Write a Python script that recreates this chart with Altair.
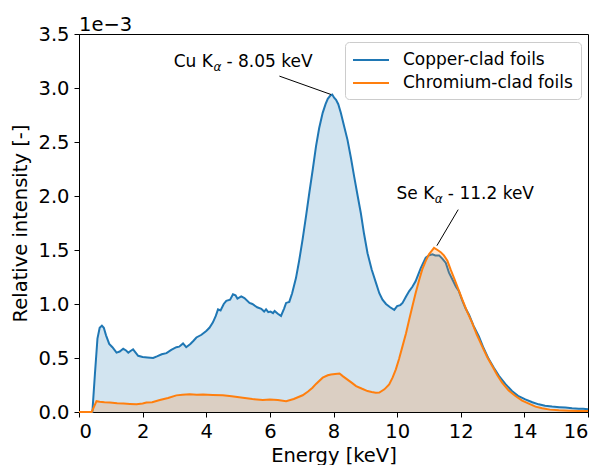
import altair as alt
import pandas as pd

# ---- data (intensity in units of 1e-3) ----
energy_cu = [0.0, 0.40, 0.42, 0.50, 0.58, 0.65, 0.72, 0.78, 0.85, 0.95, 1.05, 1.18, 1.28, 1.39, 1.48,
             1.55, 1.62, 1.70, 1.78, 1.86, 2.0, 2.15, 2.33, 2.45, 2.6, 2.75, 2.9, 3.06, 3.15, 3.27,
             3.37, 3.5, 3.6, 3.69, 3.85, 4.0, 4.1, 4.21, 4.3, 4.37, 4.45, 4.55, 4.63, 4.75, 4.84,
             4.92, 4.98, 5.1, 5.2, 5.36, 5.45, 5.6, 5.73, 5.82, 5.88, 5.95, 6.02, 6.1, 6.15, 6.25,
             6.35, 6.45, 6.51, 6.61, 6.7, 6.82, 6.92, 7.03, 7.14, 7.24, 7.35, 7.45, 7.55, 7.66, 7.75,
             7.82, 7.9, 7.96, 8.02, 8.08, 8.15, 8.23, 8.33, 8.44, 8.55, 8.65, 8.76, 8.86, 8.96, 9.07,
             9.2, 9.33, 9.44, 9.54, 9.65, 9.78, 9.91, 10.0, 10.1, 10.17, 10.28, 10.38, 10.48, 10.58,
             10.66, 10.74, 10.82, 10.90, 11.0, 11.11, 11.2, 11.32, 11.42, 11.53, 11.63, 11.75, 11.85,
             11.94, 12.05, 12.15, 12.26, 12.4, 12.57, 12.72, 12.88, 13.04, 13.20, 13.4, 13.61, 13.8,
             14.03, 14.25, 14.45, 14.65, 14.87, 15.1, 15.29, 15.5, 15.71, 15.85, 16.0]
intensity_cu = [0.0, 0.0, 0.0, 0.35, 0.68, 0.78, 0.80, 0.78, 0.71, 0.63, 0.60, 0.55, 0.56, 0.585, 0.57,
                0.55, 0.565, 0.58, 0.55, 0.52, 0.51, 0.505, 0.50, 0.515, 0.535, 0.545, 0.575, 0.60, 0.605, 0.635,
                0.60, 0.63, 0.66, 0.69, 0.715, 0.75, 0.78, 0.83, 0.89, 0.95, 0.94, 1.00, 1.03, 1.04, 1.09,
                1.08, 1.05, 1.07, 1.055, 1.01, 1.00, 0.97, 0.955, 0.93, 0.95, 0.925, 0.93, 0.915, 0.935, 0.91,
                0.89, 0.96, 1.01, 1.02, 1.10, 1.24, 1.40, 1.60, 1.82, 2.03, 2.25, 2.46, 2.63, 2.77, 2.85,
                2.90, 2.93, 2.94, 2.91, 2.89, 2.85, 2.77, 2.65, 2.52, 2.35, 2.18, 2.00, 1.84, 1.65, 1.47,
                1.32, 1.20, 1.10, 1.04, 1.00, 0.97, 0.945, 0.98, 0.99, 1.01, 1.07, 1.12, 1.16, 1.21,
                1.27, 1.33, 1.38, 1.43, 1.45, 1.46, 1.45, 1.45, 1.42, 1.38, 1.29, 1.22, 1.16,
                1.12, 1.03, 0.96, 0.90, 0.80, 0.70, 0.59, 0.49, 0.41, 0.335, 0.26, 0.195, 0.15,
                0.117, 0.09, 0.071, 0.058, 0.050, 0.045, 0.041, 0.035, 0.031, 0.030, 0.025]

energy_cr = [0.0, 0.40, 0.55, 0.65, 0.8, 0.97, 1.2, 1.4, 1.6, 1.81, 2.0, 2.12, 2.3, 2.54, 2.8, 3.06,
             3.25, 3.48, 3.7, 3.9, 4.2, 4.52, 4.8, 5.15, 5.45, 5.78, 6.0, 6.25, 6.51, 6.75, 7.03, 7.2,
             7.34, 7.45, 7.66, 7.82, 7.92, 8.05, 8.19, 8.3, 8.44, 8.58, 8.71, 8.9, 9.07, 9.2, 9.33,
             9.44, 9.6, 9.75, 9.86, 9.96, 10.06, 10.17, 10.28, 10.38, 10.48, 10.58, 10.69, 10.79,
             10.9, 11.0, 11.08, 11.16, 11.27, 11.37, 11.47, 11.58, 11.68, 11.79, 11.92, 12.05, 12.2,
             12.36, 12.5, 12.67, 12.83, 12.99, 13.15, 13.30, 13.5, 13.72, 13.93, 14.14, 14.35, 14.56,
             14.8, 15.08, 15.4, 15.7, 16.0]
intensity_cr = [0.0, 0.0, 0.10, 0.095, 0.09, 0.087, 0.08, 0.078, 0.075, 0.071, 0.078, 0.087, 0.09, 0.111, 0.13, 0.154,
                0.16, 0.164, 0.16, 0.163, 0.158, 0.154, 0.145, 0.133, 0.12, 0.111, 0.115, 0.111, 0.10, 0.12, 0.155, 0.19,
                0.225, 0.26, 0.318, 0.34, 0.348, 0.352, 0.357, 0.33, 0.30, 0.27, 0.24, 0.215, 0.194, 0.185, 0.179,
                0.18, 0.21, 0.256, 0.32, 0.395, 0.49, 0.61, 0.73, 0.857, 0.98, 1.10, 1.22, 1.32,
                1.40, 1.46, 1.49, 1.52, 1.50, 1.48, 1.45, 1.40, 1.32, 1.24, 1.14, 1.04, 0.93,
                0.826, 0.72, 0.61, 0.51, 0.425, 0.34, 0.272, 0.20, 0.148, 0.105, 0.078, 0.05, 0.034,
                0.022, 0.016, 0.012, 0.01, 0.01]

series_names = ["Copper-clad foils", "Chromium-clad foils"]
series_colors = ["#1f77b4", "#ff7f0e"]

x_ticks = [0, 2, 4, 6, 8, 10, 12, 14, 16]
y_ticks = [0.0, 0.5, 1.0, 1.5, 2.0, 2.5, 3.0, 3.5]

# annotations
ann_prefix = ["Cu K", "Se K"]
ann_sub = ["α", "α"]
ann_suffix = ["- 8.05 keV", "- 11.2 keV"]
ann_x = [4.21, 11.17]
ann_y = [3.195, 1.975]
arrow_x = [6.30, 11.92]
arrow_y = [3.11, 1.874]
arrow_x2 = [7.92, 11.25]
arrow_y2 = [2.94, 1.54]

FONT = "DejaVu Sans"

df = pd.concat([
    pd.DataFrame({"energy": energy_cu, "intensity": intensity_cu, "series": series_names[0]}),
    pd.DataFrame({"energy": energy_cr, "intensity": intensity_cr, "series": series_names[1]}),
], ignore_index=True)

ann_df = pd.DataFrame({"energy": ann_x, "intensity": ann_y, "prefix": ann_prefix,
                       "sub": ann_sub, "suffix": ann_suffix})
arrow_df = pd.DataFrame({"energy": arrow_x, "intensity": arrow_y,
                         "energy2": arrow_x2, "intensity2": arrow_y2})

x_scale = alt.Scale(domain=[0, 16], nice=False, zero=False)
y_scale = alt.Scale(domain=[0, 3.5], nice=False)
x_axis = alt.Axis(values=x_ticks, format="d", title="Energy [keV]")
y_axis = alt.Axis(values=y_ticks, format=".1f", title="Relative intensity [-]")


def X():
    return alt.X("energy:Q", scale=x_scale, axis=x_axis, title="Energy [keV]")


def Y():
    return alt.Y("intensity:Q", scale=y_scale, axis=y_axis, title="Relative intensity [-]")


base = alt.Chart(df)

area_cu = base.transform_filter(alt.datum.series == series_names[0]).mark_area(
    color=series_colors[0], fillOpacity=0.2).encode(x=X(), y=Y())
area_cr = base.transform_filter(alt.datum.series == series_names[1]).mark_area(
    color=series_colors[1], fillOpacity=0.2).encode(x=X(), y=Y())

color = alt.Color(
    "series:N",
    scale=alt.Scale(domain=series_names, range=series_colors),
    legend=alt.Legend(
        title=None, orient="none", legendX=266, legendY=8,
        labelFontSize=17, labelFont=FONT, labelColor="black", labelLimit=400,
        symbolType="M-2,0H2", symbolSize=324, symbolStrokeWidth=2,
        symbolOffset=8, labelOffset=22, padding=8, rowPadding=5,
        fillColor="rgba(255,255,255,0.8)", strokeColor="#cccccc", cornerRadius=4,
    ),
)

line_cu = base.transform_filter(alt.datum.series == series_names[0]).mark_line(
    strokeWidth=2).encode(x=X(), y=Y(), color=color)
line_cr = base.transform_filter(alt.datum.series == series_names[1]).mark_line(
    strokeWidth=2).encode(x=X(), y=Y(), color=color)

ann_base = alt.Chart(ann_df)
txt_prefix = ann_base.mark_text(align="right", baseline="alphabetic", fontSize=17, font=FONT,
                                color="black").encode(x=X(), y=Y(), text="prefix:N")
txt_sub = ann_base.mark_text(align="left", baseline="alphabetic", fontSize=12, font=FONT,
                             fontStyle="italic", dy=4, dx=0.5,
                             color="black").encode(x=X(), y=Y(), text="sub:N")
txt_suffix = ann_base.mark_text(align="left", baseline="alphabetic", fontSize=17, font=FONT,
                                dx=13.5, color="black").encode(x=X(), y=Y(), text="suffix:N")

arrows = alt.Chart(arrow_df).mark_rule(color="black", strokeWidth=1).encode(
    x=X(), y=Y(), x2="energy2:Q", y2="intensity2:Q")

chart = alt.layer(
    area_cu, line_cu, area_cr, line_cr, arrows, txt_prefix, txt_sub, txt_suffix
).properties(
    width=509, height=378,
    title=alt.TitleParams("1e−3", anchor="start", frame="group", fontSize=19.5,
                          fontWeight="normal", font=FONT, color="black", offset=4, dy=15),
    autosize=alt.AutoSizeParams(type="none"),
    padding={"left": 79, "top": 34, "right": 12, "bottom": 53},
    background="white",
).configure_view(
    stroke="black", strokeWidth=1
).configure_axis(
    grid=False, domainColor="black", tickColor="black", tickSize=5, labelPadding=5,
    labelFontSize=19.5, titleFontSize=19.5, labelFont=FONT, titleFont=FONT,
    labelColor="black", titleColor="black", titleFontWeight="normal",
).configure_axisY(
    titlePadding=7
).configure_axisX(
    titlePadding=6
)

chart.save("out.html", embed_options={"renderer": "svg", "actions": False})
